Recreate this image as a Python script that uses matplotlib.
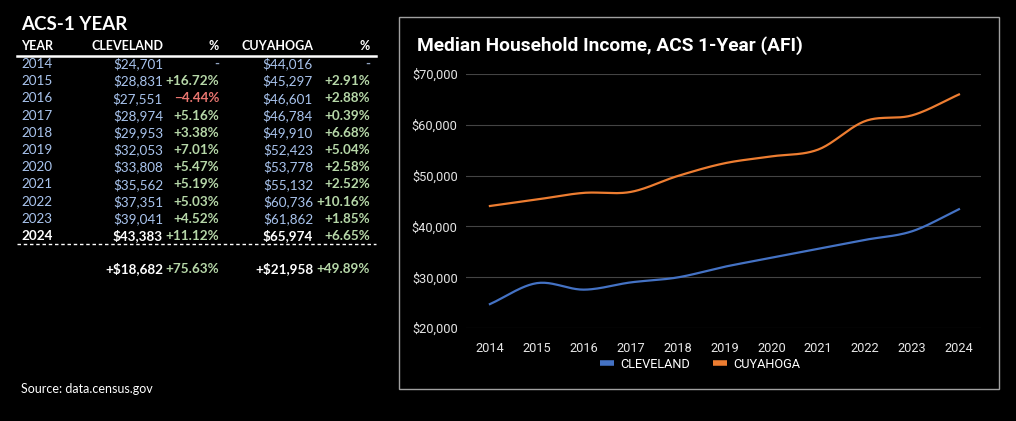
import numpy as np
import matplotlib.pyplot as plt
from matplotlib.patches import Rectangle
from matplotlib.lines import Line2D

years = [2014, 2015, 2016, 2017, 2018, 2019, 2020, 2021, 2022, 2023, 2024]
cleveland = [24701, 28831, 27551, 28974, 29953, 32053, 33808, 35562, 37351, 39041, 43383]
cuyahoga = [44016, 45297, 46601, 46784, 49910, 52423, 53778, 55132, 60736, 61862, 65974]
cle_pct = ['-', '+16.72%', '\u22124.44%', '+5.16%', '+3.38%', '+7.01%', '+5.47%',
           '+5.19%', '+5.03%', '+4.52%', '+11.12%']
cuy_pct = ['-', '+2.91%', '+2.88%', '+0.39%', '+6.68%', '+5.04%', '+2.58%',
           '+2.52%', '+10.16%', '+1.85%', '+6.65%']
totals = ['+$18,682', '+75.63%', '+$21,958', '+49.89%']

W, H = 1016, 421
BLUE_TXT = '#a9c4ee'
GREEN_TXT = '#b6d7a8'
RED_TXT = '#e8756f'
TFONT = ['Lato', 'DejaVu Sans']
CFONT = ['Roboto', 'DejaVu Sans']


def fx(px):
    return px / W


def fy(py):
    return 1 - py / H


def smooth(x, y, n=24):
    # catmull-rom curve through the points, like the sheets "smooth" option
    x = np.asarray(x, float)
    y = np.asarray(y, float)
    px = np.concatenate([[2 * x[0] - x[1]], x, [2 * x[-1] - x[-2]]])
    py = np.concatenate([[2 * y[0] - y[1]], y, [2 * y[-1] - y[-2]]])
    xs, ys = [], []
    t = np.linspace(0, 1, n, endpoint=False)
    for i in range(1, len(px) - 2):
        for p, out in ((px, xs), (py, ys)):
            p0, p1, p2, p3 = p[i - 1], p[i], p[i + 1], p[i + 2]
            out.extend(0.5 * (2 * p1 + (-p0 + p2) * t
                              + (2 * p0 - 5 * p1 + 4 * p2 - p3) * t ** 2
                              + (-p0 + 3 * p1 - 3 * p2 + p3) * t ** 3))
    xs.append(x[-1])
    ys.append(y[-1])
    return xs, ys


fig = plt.figure(figsize=(W / 100, H / 100), dpi=100, facecolor='black')

# ---- table on the left ----
fig.text(fx(21), fy(24), 'ACS-1 YEAR', color='white', fontsize=13.5, fontweight='bold',
         family=TFONT, va='center', ha='left')

col_x = [21, 163, 219, 313, 370]
headers = ['YEAR', 'CLEVELAND', '%', 'CUYAHOGA', '%']
for i, h in enumerate(headers):
    fig.text(fx(col_x[i]), fy(46), h, color='white', fontsize=9, fontweight='bold',
             family=TFONT, va='center', ha='left' if i == 0 else 'right')

fig.add_artist(Line2D([fx(17), fx(376)], [fy(56), fy(56)], color='white', lw=1.8))

for r, yr in enumerate(years):
    y = fy(64 + r * 17.2)
    last = r == len(years) - 1
    wt = 'bold' if last else 'normal'
    c_main = 'white' if last else BLUE_TXT
    fig.text(fx(col_x[0]), y, str(yr), color=c_main, fontsize=9.7, fontweight=wt,
             family=TFONT, va='center', ha='left')
    fig.text(fx(col_x[1]), y, '${:,}'.format(cleveland[r]), color=c_main, fontsize=9.7,
             fontweight=wt, family=TFONT, va='center', ha='right')
    fig.text(fx(col_x[3]), y, '${:,}'.format(cuyahoga[r]), color=c_main, fontsize=9.7,
             fontweight=wt, family=TFONT, va='center', ha='right')
    for ci, pct in ((2, cle_pct[r]), (4, cuy_pct[r])):
        if pct == '-':
            col = '#8fa3c0'
        elif pct.startswith('+'):
            col = GREEN_TXT
        else:
            col = RED_TXT
        fig.text(fx(col_x[ci]), y, pct, color=col, fontsize=9.7, fontweight='bold',
                 family=TFONT, va='center', ha='right')

fig.add_artist(Line2D([fx(17), fx(376)], [fy(244), fy(244)], color='white', lw=1.0,
                      linestyle=(0, (2.5, 2))))

for i, t in enumerate(totals):
    fig.text(fx(col_x[i + 1]), fy(269), t, color='white' if '$' in t else GREEN_TXT,
             fontsize=9.7, fontweight='bold', family=TFONT, va='center', ha='right')

fig.text(fx(21), fy(389), 'Source: data.census.gov', color='white', fontsize=9,
         family=TFONT, va='center', ha='left')

# ---- chart panel ----
fig.add_artist(Rectangle((fx(399), fy(389)), fx(999) - fx(399), fy(17) - fy(389),
                         fill=False, edgecolor='#a0a0a0', lw=1.0))
fig.text(fx(417), fy(46), 'Median Household Income, ACS 1-Year (AFI)', color='white',
         fontsize=13.8, fontweight='bold', family=CFONT, va='center', ha='left')

ax = fig.add_axes([fx(466), fy(328), fx(981) - fx(466), fy(74) - fy(328)])
ax.set_facecolor('black')
sx, sy = smooth(years, cleveland)
ax.plot(sx, sy, color='#4472c4', lw=1.6, label='CLEVELAND')
sx, sy = smooth(years, cuyahoga)
ax.plot(sx, sy, color='#ed7d31', lw=1.6, label='CUYAHOGA')

ax.set_xlim(2013.49, 2024.47)
ax.set_ylim(20000, 70000)
ax.set_xticks(years)
ax.set_xticklabels([str(y) for y in years])
ax.set_yticks(range(20000, 70001, 10000))
ax.set_yticklabels(['${:,}'.format(v) for v in range(20000, 70001, 10000)])
ax.grid(axis='y', color='#444444', lw=0.8)
ax.set_axisbelow(True)
for s in ax.spines.values():
    s.set_visible(False)
ax.tick_params(length=0, colors='#e6e6e6', labelsize=9.2)
ax.tick_params(axis='x', pad=10)
ax.tick_params(axis='y', pad=6)
for lab in ax.get_xticklabels() + ax.get_yticklabels():
    lab.set_family(CFONT)

handles = [Line2D([], [], color='#4472c4', lw=4, solid_capstyle='butt'),
           Line2D([], [], color='#ed7d31', lw=4, solid_capstyle='butt')]
leg = fig.legend(handles, ['CLEVELAND', 'CUYAHOGA'], loc='center',
                 bbox_to_anchor=(fx(700), fy(364)), ncol=2, frameon=False,
                 handlelength=1.1, columnspacing=1.8, handletextpad=0.5,
                 prop={'family': CFONT, 'size': 9.2})
for t in leg.get_texts():
    t.set_color('white')

fig.savefig('out.png', dpi=100, facecolor='black')
